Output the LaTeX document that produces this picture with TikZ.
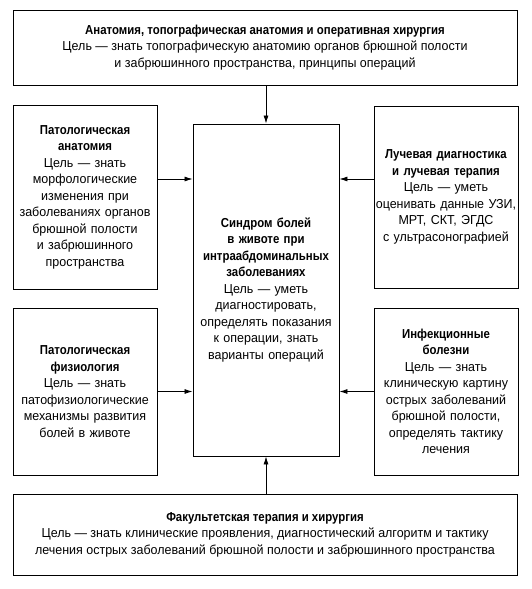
\documentclass[tikz,border=0pt]{standalone}
\usepackage{fontspec}
\setmainfont{Liberation Sans}[UprightFeatures = {FakeStretch = 0.96}, BoldFeatures = {FakeStretch = 0.877}]
\usetikzlibrary{arrows.meta}

\tikzset{
	box/.style = {draw, line width = 0.9pt, align = center, inner sep = 0pt,
		font = \fontsize{13}{16.5}\selectfont},
	side/.style = {box, text width = 150pt, inner xsep = -3pt},
	link/.style = {->, line width = 0.8pt},
}

\begin{document}
\begin{tikzpicture}[> = {Latex[length = 8pt, width = 5pt]}, x = 1pt, y = -1pt]

	\useasboundingbox (0, 0) rectangle (531, 589);

	% Boxes

	\node [box, minimum width = 504pt, minimum height = 75pt] (anat) at (265, 47.5)
		{\textbf{Анатомия, топографическая анатомия и оперативная хирургия}\\
		Цель — знать топографическую анатомию органов брюшной полости\\
		и забрюшинного пространства, принципы операций};

	\node [side, minimum height = 184pt] (patan) at (85, 197)
		{\textbf{Патологическая}\\ \textbf{анатомия}\\ Цель — знать\\ морфологические\\
		изменения при\\ заболеваниях органов\\ брюшной полости\\ и забрюшинного\\ пространства};

	\node [side, minimum height = 167pt] (patfiz) at (85, 391.5)
		{\textbf{Патологическая}\\ \textbf{физиология}\\ Цель — знать\\ патофизиологические\\
		механизмы развития\\ болей в животе};

	\node [side, minimum height = 182pt] (luch) at (446, 197)
		{\textbf{Лучевая диагностика}\\ \textbf{и лучевая терапия}\\ Цель — уметь\\
		оценивать данные УЗИ,\\ МРТ, СКТ, ЭГДС\\ с ультрасонографией};

	\node [side, minimum height = 167pt] (infek) at (446, 391.5)
		{\textbf{Инфекционные}\\ \textbf{болезни}\\ Цель — знать\\ клиническую картину\\
		острых заболеваний\\ брюшной полости,\\ определять тактику\\ лечения};

	\node [box, minimum height = 332pt, text width = 150pt, inner xsep = -2pt] (sindrom) at (266, 290)
		{\textbf{Синдром болей}\\ \textbf{в животе при}\\ \textbf{интраабдоминальных}\\ \textbf{заболеваниях}\\
		Цель — уметь\\ диагностировать,\\ определять показания\\ к операции, знать\\ варианты операций};

	\node [box, minimum width = 504pt, minimum height = 81pt] (fakult) at (265, 534.5)
		{\textbf{Факультетская терапия и хирургия}\\
		Цель — знать клинические проявления, диагностический алгоритм и тактику\\
		лечения острых заболеваний брюшной полости и забрюшинного пространства};

	% Arrows

	\draw [link] (sindrom.north |- anat.south) -- (sindrom.north);
	\draw [link] (sindrom.south |- fakult.north) -- (sindrom.south);
	\draw [link] ([yshift = 18pt] patan.east) -- ([yshift = 18pt] patan.east -| sindrom.west);
	\draw [link] ([yshift = 18pt] luch.west) -- ([yshift = 18pt] luch.west -| sindrom.east);
	\draw [link] (patfiz.east) -- (patfiz.east -| sindrom.west);
	\draw [link] (infek.west) -- (infek.west -| sindrom.east);

\end{tikzpicture}
\end{document}
